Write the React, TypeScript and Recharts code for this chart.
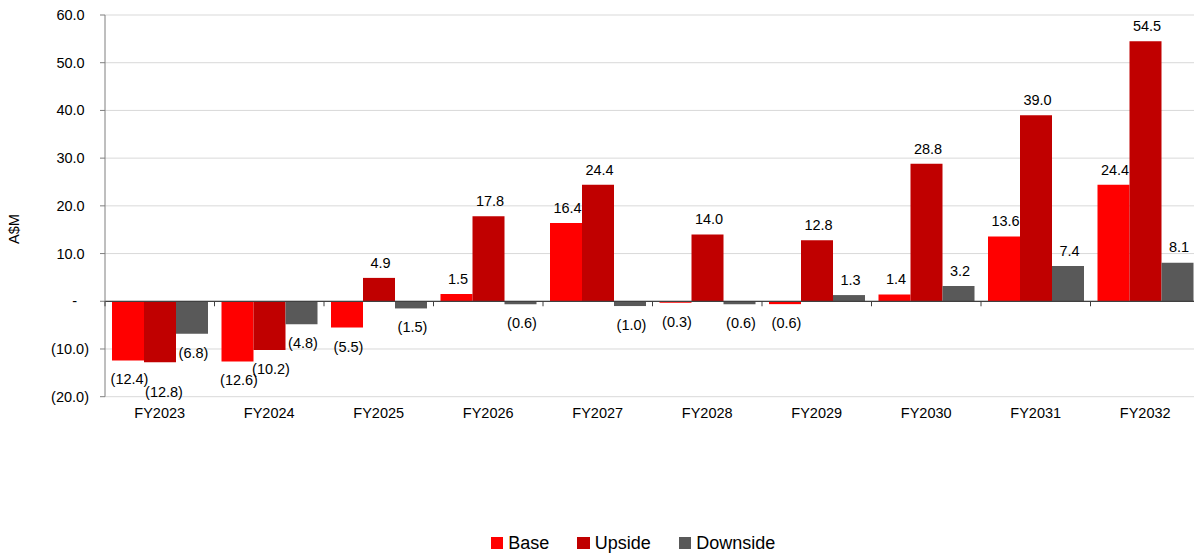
import { Bar, BarChart, CartesianGrid, LabelList, Legend, ReferenceLine, XAxis, YAxis } from 'recharts';

const categories = ['FY2023', 'FY2024', 'FY2025', 'FY2026', 'FY2027', 'FY2028', 'FY2029', 'FY2030', 'FY2031', 'FY2032'];
const baseValues = [-12.4, -12.6, -5.5, 1.5, 16.4, -0.3, -0.6, 1.4, 13.6, 24.4];
const upsideValues = [-12.8, -10.2, 4.9, 17.8, 24.4, 14.0, 12.8, 28.8, 39.0, 54.5];
const downsideValues = [-6.8, -4.8, -1.5, -0.6, -1.0, -0.6, 1.3, 3.2, 7.4, 8.1];
const yTicks = [-20, -10, 0, 10, 20, 30, 40, 50, 60];

const series = [
  { key: 'base', name: 'Base', color: '#ff0000' },
  { key: 'upside', name: 'Upside', color: '#c00000' },
  { key: 'downside', name: 'Downside', color: '#595959' },
];

const data = categories.map((year, i) => ({
  year,
  base: baseValues[i],
  upside: upsideValues[i],
  downside: downsideValues[i],
}));

const FONT = '"Liberation Sans", Arial, sans-serif';
const WIDTH = 1204;
const HEIGHT = 556;
const MARGIN = { top: 15, right: 4, bottom: 0, left: 10 };
const Y_AXIS_W = 95;
const X_AXIS_H = 129.3;
const LEGEND_H = 30;
const PLOT_H = HEIGHT - MARGIN.top - MARGIN.bottom - LEGEND_H - X_AXIS_H;
const PLOT_W = WIDTH - MARGIN.left - MARGIN.right - Y_AXIS_W;
const Y_MIN = yTicks[0];
const Y_MAX = yTicks[yTicks.length - 1];
const ZERO_Y = MARGIN.top + (PLOT_H * Y_MAX) / (Y_MAX - Y_MIN);
const BAND = PLOT_W / categories.length;

// accounting style: negatives in brackets, zero as a dash
const fmt = (v: number) => (v === 0 ? '-' : v < 0 ? `(${Math.abs(v).toFixed(1)})` : v.toFixed(1));

// hand-moved labels that would otherwise collide
const labelNudge: Record<string, [number, number]> = {
  'upside:FY2023': [2.5, 11],
};

function valueLabel(seriesKey: string) {
  return (props: any) => {
    const { x, y, width, height, value, index } = props;
    const v = Number(value);
    const top = Math.min(y, y + height);
    const bottom = Math.max(y, y + height);
    const [nx, ny] = labelNudge[`${seriesKey}:${categories[index]}`] ?? [0, 0];
    const baseline = v >= 0 ? top - 10.3 : bottom + 24;
    return (
      <text x={x + width / 2 + 1.5 + nx} y={baseline + ny} textAnchor="middle" fontFamily={FONT} fontSize={14.5} fill="#000">
        {fmt(v)}
      </text>
    );
  };
}

function CategoryTick(props: any) {
  const { x, y, payload, index } = props;
  const left = x - BAND / 2;
  return (
    <g>
      <line x1={left} x2={left} y1={ZERO_Y} y2={ZERO_Y + 5} stroke="#404040" />
      {index === categories.length - 1 && (
        <line x1={left + BAND} x2={left + BAND} y1={ZERO_Y} y2={ZERO_Y + 5} stroke="#404040" />
      )}
      <text x={x} y={y + 21.7} textAnchor="middle" fontFamily={FONT} fontSize={14.5} fill="#000">
        {payload.value}
      </text>
    </g>
  );
}

function ValueTick(props: any) {
  const { x, y, payload } = props;
  const v = payload.value;
  const dx = v === 0 ? -12 : v > 0 ? -4.3 : 0;
  return (
    <text x={x + dx} y={y} dy={5} textAnchor="end" fontFamily={FONT} fontSize={14.5} fill="#000">
      {fmt(v)}
    </text>
  );
}

// legend keeps the series order (Recharts would sort it by name)
function LegendContent() {
  return (
    <div
      style={{
        display: 'flex',
        alignItems: 'center',
        height: LEGEND_H,
        boxSizing: 'border-box',
        paddingTop: 4,
        paddingLeft: 480.7,
        fontFamily: FONT,
        fontSize: 18,
        color: '#000',
      }}
    >
      {series.map((s, i) => (
        <div key={s.key} style={{ display: 'flex', alignItems: 'center', marginLeft: i === 0 ? 0 : 28 }}>
          <span style={{ width: 12.5, height: 12.5, background: s.color, marginRight: 5, display: 'inline-block' }} />
          <span>{s.name}</span>
        </div>
      ))}
    </div>
  );
}

function AxisTitle(props: any) {
  const { viewBox } = props;
  const cx = viewBox.x + 3.5;
  const cy = 229;
  return (
    <text x={cx} y={cy} transform={`rotate(-90 ${cx} ${cy})`} textAnchor="middle" dominantBaseline="central" fontFamily={FONT} fontSize={14.5} fill="#000">
      A$M
    </text>
  );
}

export default function App() {
  return (
    <div style={{ position: 'absolute', left: 0, top: 0, width: 1194, height: 556, overflow: 'hidden', background: '#fff' }}>
      <BarChart width={WIDTH} height={HEIGHT} data={data} margin={MARGIN} barCategoryGap={7} barGap={0}>
        <CartesianGrid horizontal vertical={false} stroke="#d9d9d9" />
        <XAxis
          dataKey="year"
          height={X_AXIS_H}
          axisLine={false}
          tickLine={false}
          tickSize={0}
          tickMargin={0}
          interval={0}
          tick={<CategoryTick />}
        />
        <YAxis
          width={Y_AXIS_W}
          domain={[Y_MIN, Y_MAX]}
          ticks={yTicks}
          interval={0}
          axisLine={{ stroke: '#7f7f7f' }}
          tickLine={{ stroke: '#7f7f7f' }}
          tickSize={5}
          tickMargin={11}
          tick={<ValueTick />}
          label={{ content: <AxisTitle /> }}
        />
        <Legend verticalAlign="bottom" content={<LegendContent />} />
        {series.map((s) => (
          <Bar key={s.key} dataKey={s.key} name={s.name} fill={s.color} isAnimationActive={false}>
            <LabelList dataKey={s.key} content={valueLabel(s.key)} />
          </Bar>
        ))}
        <ReferenceLine y={0} stroke="#404040" strokeWidth={1.3} />
      </BarChart>
    </div>
  );
}
